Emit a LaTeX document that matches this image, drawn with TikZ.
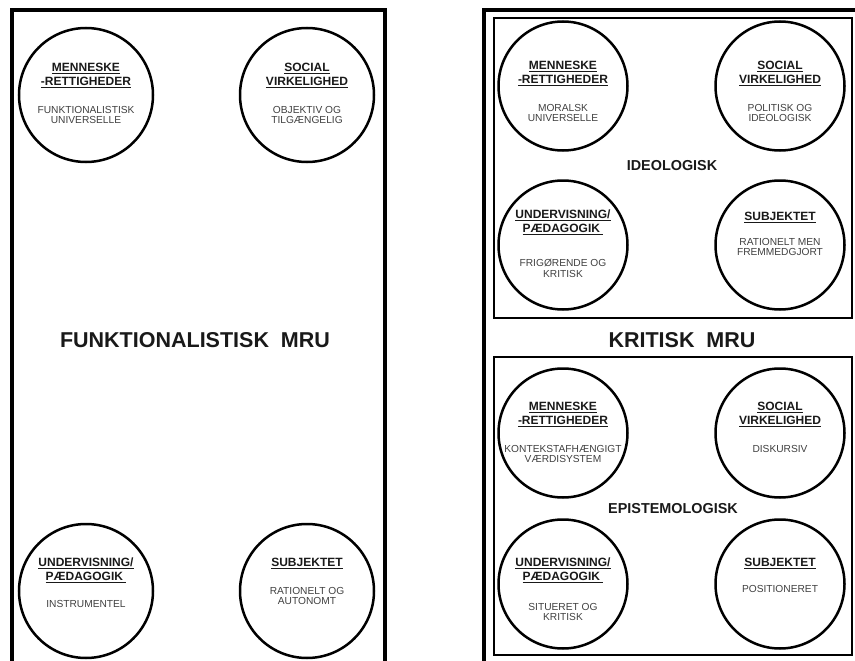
\documentclass[tikz,border=0pt]{standalone}
\usepackage{fontspec}
\setmainfont{Liberation Sans}
% understregning under hver linje
\newcommand\ulin[1]{\setbox0\hbox{#1}\rlap{\rule[-2.6pt]{\wd0}{1.4pt}}\box0}
\begin{document}
\begin{tikzpicture}[x=1pt,y=-1pt,
  ramme/.style={line width=4pt},
  felt/.style={line width=2pt},
  kreds/.style={circle,draw,line width=2.5pt,minimum size=134pt,inner sep=0pt},
  lillekreds/.style={kreds,minimum size=129pt},
  overskrift/.style={anchor=north,inner sep=0pt,align=center,text=black!90,
    font=\fontsize{12}{14}\selectfont\bfseries},
  beskriv/.style={anchor=north,inner sep=0pt,align=center,text=black!75,
    font=\fontsize{10.2}{10.6}\selectfont},
  titel/.style={anchor=base,inner sep=0pt,text=black!90,
    font=\fontsize{21.5}{24}\selectfont\bfseries},
  niveau/.style={anchor=base,inner sep=0pt,text=black!90,
    font=\fontsize{14.4}{16}\selectfont\bfseries}]
  \useasboundingbox (0,0) rectangle (855,661);
  \clip (0,0) rectangle (855,661);
  % rammer
  \draw[ramme] (12,10) rectangle (385,700);
  \draw[ramme] (484,10) rectangle (900,700);
  \draw[felt] (494,18) rectangle (852,318);
  \draw[felt] (494,357) rectangle (852,655);
  % funktionalistisk MRU
  \node[kreds] (fm) at (86,95) {};
  \node[kreds] (fs) at (307,95) {};
  \node[kreds] (fu) at (86,591) {};
  \node[kreds] (fj) at (307,591) {};
  \node[overskrift] (fm-o) at (86,63) {\ulin{MENNESKE}\\\ulin{-RETTIGHEDER}};
  \node[beskriv] (fm-b) at (86,106) {FUNKTIONALISTISK\\UNIVERSELLE};
  \node[overskrift] (fs-o) at (307,63) {\ulin{SOCIAL}\\\ulin{VIRKELIGHED}};
  \node[beskriv] (fs-b) at (307,106) {OBJEKTIV OG\\TILGÆNGELIG};
  \node[overskrift] (fu-o) at (86,558) {\ulin{UNDERVISNING/}\\\ulin{PÆDAGOGIK\ }};
  \node[beskriv] (fu-b) at (86,600) {INSTRUMENTEL};
  \node[overskrift] (fj-o) at (307,558) {\ulin{SUBJEKTET}};
  \node[beskriv] (fj-b) at (307,587) {RATIONELT OG\\AUTONOMT};
  \node[titel] (ftitel) at (195,347) {FUNKTIONALISTISK\ \ MRU};
  % kritisk MRU, ideologisk
  \node[lillekreds] (im) at (563,86) {};
  \node[lillekreds] (is) at (780,86) {};
  \node[lillekreds] (iu) at (563,245) {};
  \node[lillekreds] (ij) at (780,245) {};
  \node[overskrift] (im-o) at (563,61) {\ulin{MENNESKE}\\\ulin{-RETTIGHEDER}};
  \node[beskriv] (im-b) at (563,104) {MORALSK\\UNIVERSELLE};
  \node[overskrift] (is-o) at (780,61) {\ulin{SOCIAL}\\\ulin{VIRKELIGHED}};
  \node[beskriv] (is-b) at (780,104) {POLITISK OG\\IDEOLOGISK};
  \node[overskrift] (iu-o) at (563,210) {\ulin{UNDERVISNING/}\\\ulin{PÆDAGOGIK\ }};
  \node[beskriv] (iu-b) at (563,259) {FRIGØRENDE OG\\KRITISK};
  \node[overskrift] (ij-o) at (780,212) {\ulin{SUBJEKTET}};
  \node[beskriv] (ij-b) at (780,238) {RATIONELT MEN\\FREMMEDGJORT};
  \node[niveau] (ideo) at (672,170) {IDEOLOGISK};
  \node[titel] (ktitel) at (682,347) {KRITISK\ \ MRU};
  % kritisk MRU, epistemologisk
  \node[lillekreds] (em) at (563,433) {};
  \node[lillekreds] (es) at (780,433) {};
  \node[lillekreds] (eu) at (563,584) {};
  \node[lillekreds] (ej) at (780,584) {};
  \node[overskrift] (em-o) at (563,402) {\ulin{MENNESKE}\\\ulin{-RETTIGHEDER}};
  \node[beskriv] (em-b) at (563,445) {KONTEKSTAFHÆNGIGT\\VÆRDISYSTEM};
  \node[overskrift] (es-o) at (780,402) {\ulin{SOCIAL}\\\ulin{VIRKELIGHED}};
  \node[beskriv] (es-b) at (780,445) {DISKURSIV};
  \node[overskrift] (eu-o) at (563,558) {\ulin{UNDERVISNING/}\\\ulin{PÆDAGOGIK\ }};
  \node[beskriv] (eu-b) at (563,603) {SITUERET OG\\KRITISK};
  \node[overskrift] (ej-o) at (780,558) {\ulin{SUBJEKTET}};
  \node[beskriv] (ej-b) at (780,585) {POSITIONERET};
  \node[niveau] (epi) at (673,513) {EPISTEMOLOGISK};
\end{tikzpicture}
\end{document}
